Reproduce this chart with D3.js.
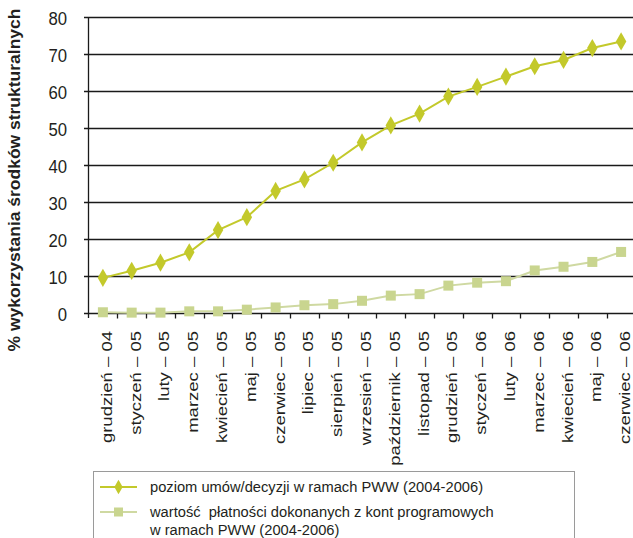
<!DOCTYPE html>
<html>
<head>
<meta charset="utf-8">
<script src="https://cdn.jsdelivr.net/npm/d3@7/dist/d3.min.js"></script>
<style>
  html, body { margin: 0; padding: 0; background: #fff; }
  svg { display: block; font-family: "Liberation Sans", Arial, sans-serif; }
  text { white-space: pre; }
</style>
</head>
<body>
<div id="chart"></div>
<script>
// Months of the 2004–2006 programming period
const months = [
  "grudzień – 04", "styczeń – 05", "luty – 05", "marzec – 05", "kwiecień – 05",
  "maj – 05", "czerwiec – 05", "lipiec – 05", "sierpień – 05", "wrzesień – 05",
  "październik – 05", "listopad – 05", "grudzień – 05", "styczeń – 06", "luty – 06",
  "marzec – 06", "kwiecień – 06", "maj – 06", "czerwiec – 06"
];

// Contracts / decisions level (%)
const contracts = [9.5, 11.4, 13.6, 16.4, 22.4, 25.9, 33.0, 36.1, 40.6, 46.1,
                   50.7, 53.9, 58.5, 61.1, 63.9, 66.7, 68.4, 71.6, 73.4];

// Payments made from programme accounts (%)
const payments = [0.2, 0.1, 0.1, 0.45, 0.45, 0.9, 1.5, 2.1, 2.4, 3.3,
                  4.7, 5.1, 7.4, 8.2, 8.6, 11.5, 12.5, 13.8, 16.5];

const yTicks = [0, 10, 20, 30, 40, 50, 60, 70, 80];

const seriesNames = [
  ["poziom umów/decyzji w ramach PWW (2004-2006)"],
  ["wartość  płatności dokonanych z kont programowych", "w ramach PWW (2004-2006)"]
];

const W = 633, H = 538;
const colContracts = "#c3c92b";
const colPayments = "#c9d58f";
const colPaymentsLine = "#cfd9a2";

const svg = d3.select("#chart").append("svg")
  .attr("width", W).attr("height", H);

const x = d3.scaleBand().domain(months).range([88.5, 635.5]).padding(0);
const y = d3.scaleLinear().domain([0, 80]).range([313, 17]);

// horizontal grid lines
svg.append("g")
  .selectAll("line").data(yTicks).join("line")
  .attr("x1", 84).attr("x2", W)
  .attr("y1", d => Math.round(y(d)) + 0.5).attr("y2", d => Math.round(y(d)) + 0.5)
  .attr("stroke", "#1a1a1a").attr("stroke-width", 1.3);

// y axis labels (slightly condensed face)
svg.append("g")
  .selectAll("text").data(yTicks).join("text")
  .attr("transform", d => `translate(67,${y(d) + 1}) scale(0.88,1)`)
  .attr("dy", "0.36em").attr("text-anchor", "end")
  .attr("font-size", 19).attr("fill", "#231f20")
  .text(d => d);

// y axis line
svg.append("line")
  .attr("x1", 88.5).attr("x2", 88.5).attr("y1", y(80)).attr("y2", y(0) + 5)
  .attr("stroke", "#1a1a1a").attr("stroke-width", 1.3);

// x axis ticks between categories
const tickPos = months.map(m => x(m)).concat([x.range()[1]]);
svg.append("g")
  .selectAll("line").data(tickPos.slice(1)).join("line")
  .attr("x1", d => Math.round(d) + 0.5).attr("x2", d => Math.round(d) + 0.5)
  .attr("y1", y(0)).attr("y2", y(0) + 5.5)
  .attr("stroke", "#1a1a1a").attr("stroke-width", 1.3);

// x axis labels (rotated, condensed face)
svg.append("g")
  .selectAll("text").data(months).join("text")
  .attr("transform", d => `translate(${x(d) + x.bandwidth() / 2 + 9},${y(0) + 18}) rotate(-90) scale(1,0.8)`)
  .attr("text-anchor", "end")
  .attr("font-size", 18.5).attr("fill", "#231f20")
  .text(d => d);

// y axis title
svg.append("text")
  .attr("transform", `translate(19.5,180) rotate(-90) scale(1,0.9)`)
  .attr("text-anchor", "middle")
  .attr("font-size", 17.5).attr("font-weight", "bold").attr("fill", "#231f20")
  .text("% wykorzystania środków strukturalnych");

const cx = d => x(d) + x.bandwidth() / 2;

// payments series
const linePay = d3.line().x((d, i) => cx(months[i])).y(d => y(d));
svg.append("path").datum(payments)
  .attr("d", linePay).attr("fill", "none")
  .attr("stroke", colPaymentsLine).attr("stroke-width", 2);
svg.append("g").selectAll("rect").data(payments).join("rect")
  .attr("x", (d, i) => cx(months[i]) - 5).attr("y", d => y(d) - 5)
  .attr("width", 10).attr("height", 10)
  .attr("fill", colPayments);

// contracts series
const lineCon = d3.line().x((d, i) => cx(months[i])).y(d => y(d));
svg.append("path").datum(contracts)
  .attr("d", lineCon).attr("fill", "none")
  .attr("stroke", colContracts).attr("stroke-width", 2);
const diamond = d3.symbol().type(d3.symbolDiamond).size(95);
svg.append("g").selectAll("path").data(contracts).join("path")
  .attr("transform", (d, i) => `translate(${cx(months[i])},${y(d)})`)
  .attr("d", diamond)
  .attr("fill", colContracts);

// legend
const lg = svg.append("g");
lg.append("rect")
  .attr("x", 93.5).attr("y", 471.5).attr("width", 481).attr("height", 80)
  .attr("fill", "#fff").attr("stroke", "#9a9a9a").attr("stroke-width", 1);

lg.append("line").attr("x1", 100).attr("x2", 137).attr("y1", 487).attr("y2", 487)
  .attr("stroke", colContracts).attr("stroke-width", 2);
lg.append("path").attr("transform", "translate(118.5,487)")
  .attr("d", d3.symbol().type(d3.symbolDiamond).size(60)).attr("fill", colContracts);

lg.append("line").attr("x1", 100).attr("x2", 137).attr("y1", 512).attr("y2", 512)
  .attr("stroke", colPaymentsLine).attr("stroke-width", 2);
lg.append("rect").attr("x", 114).attr("y", 507.5).attr("width", 9).attr("height", 9)
  .attr("fill", colPayments);

const legendY = [[487], [512, 530]];
seriesNames.forEach((lines, si) => {
  lines.forEach((t, li) => {
    lg.append("text")
      .attr("x", 150).attr("y", legendY[si][li]).attr("dy", "0.35em")
      .attr("font-size", 14.7).attr("fill", "#231f20")
      .text(t);
  });
});
</script>
</body>
</html>
